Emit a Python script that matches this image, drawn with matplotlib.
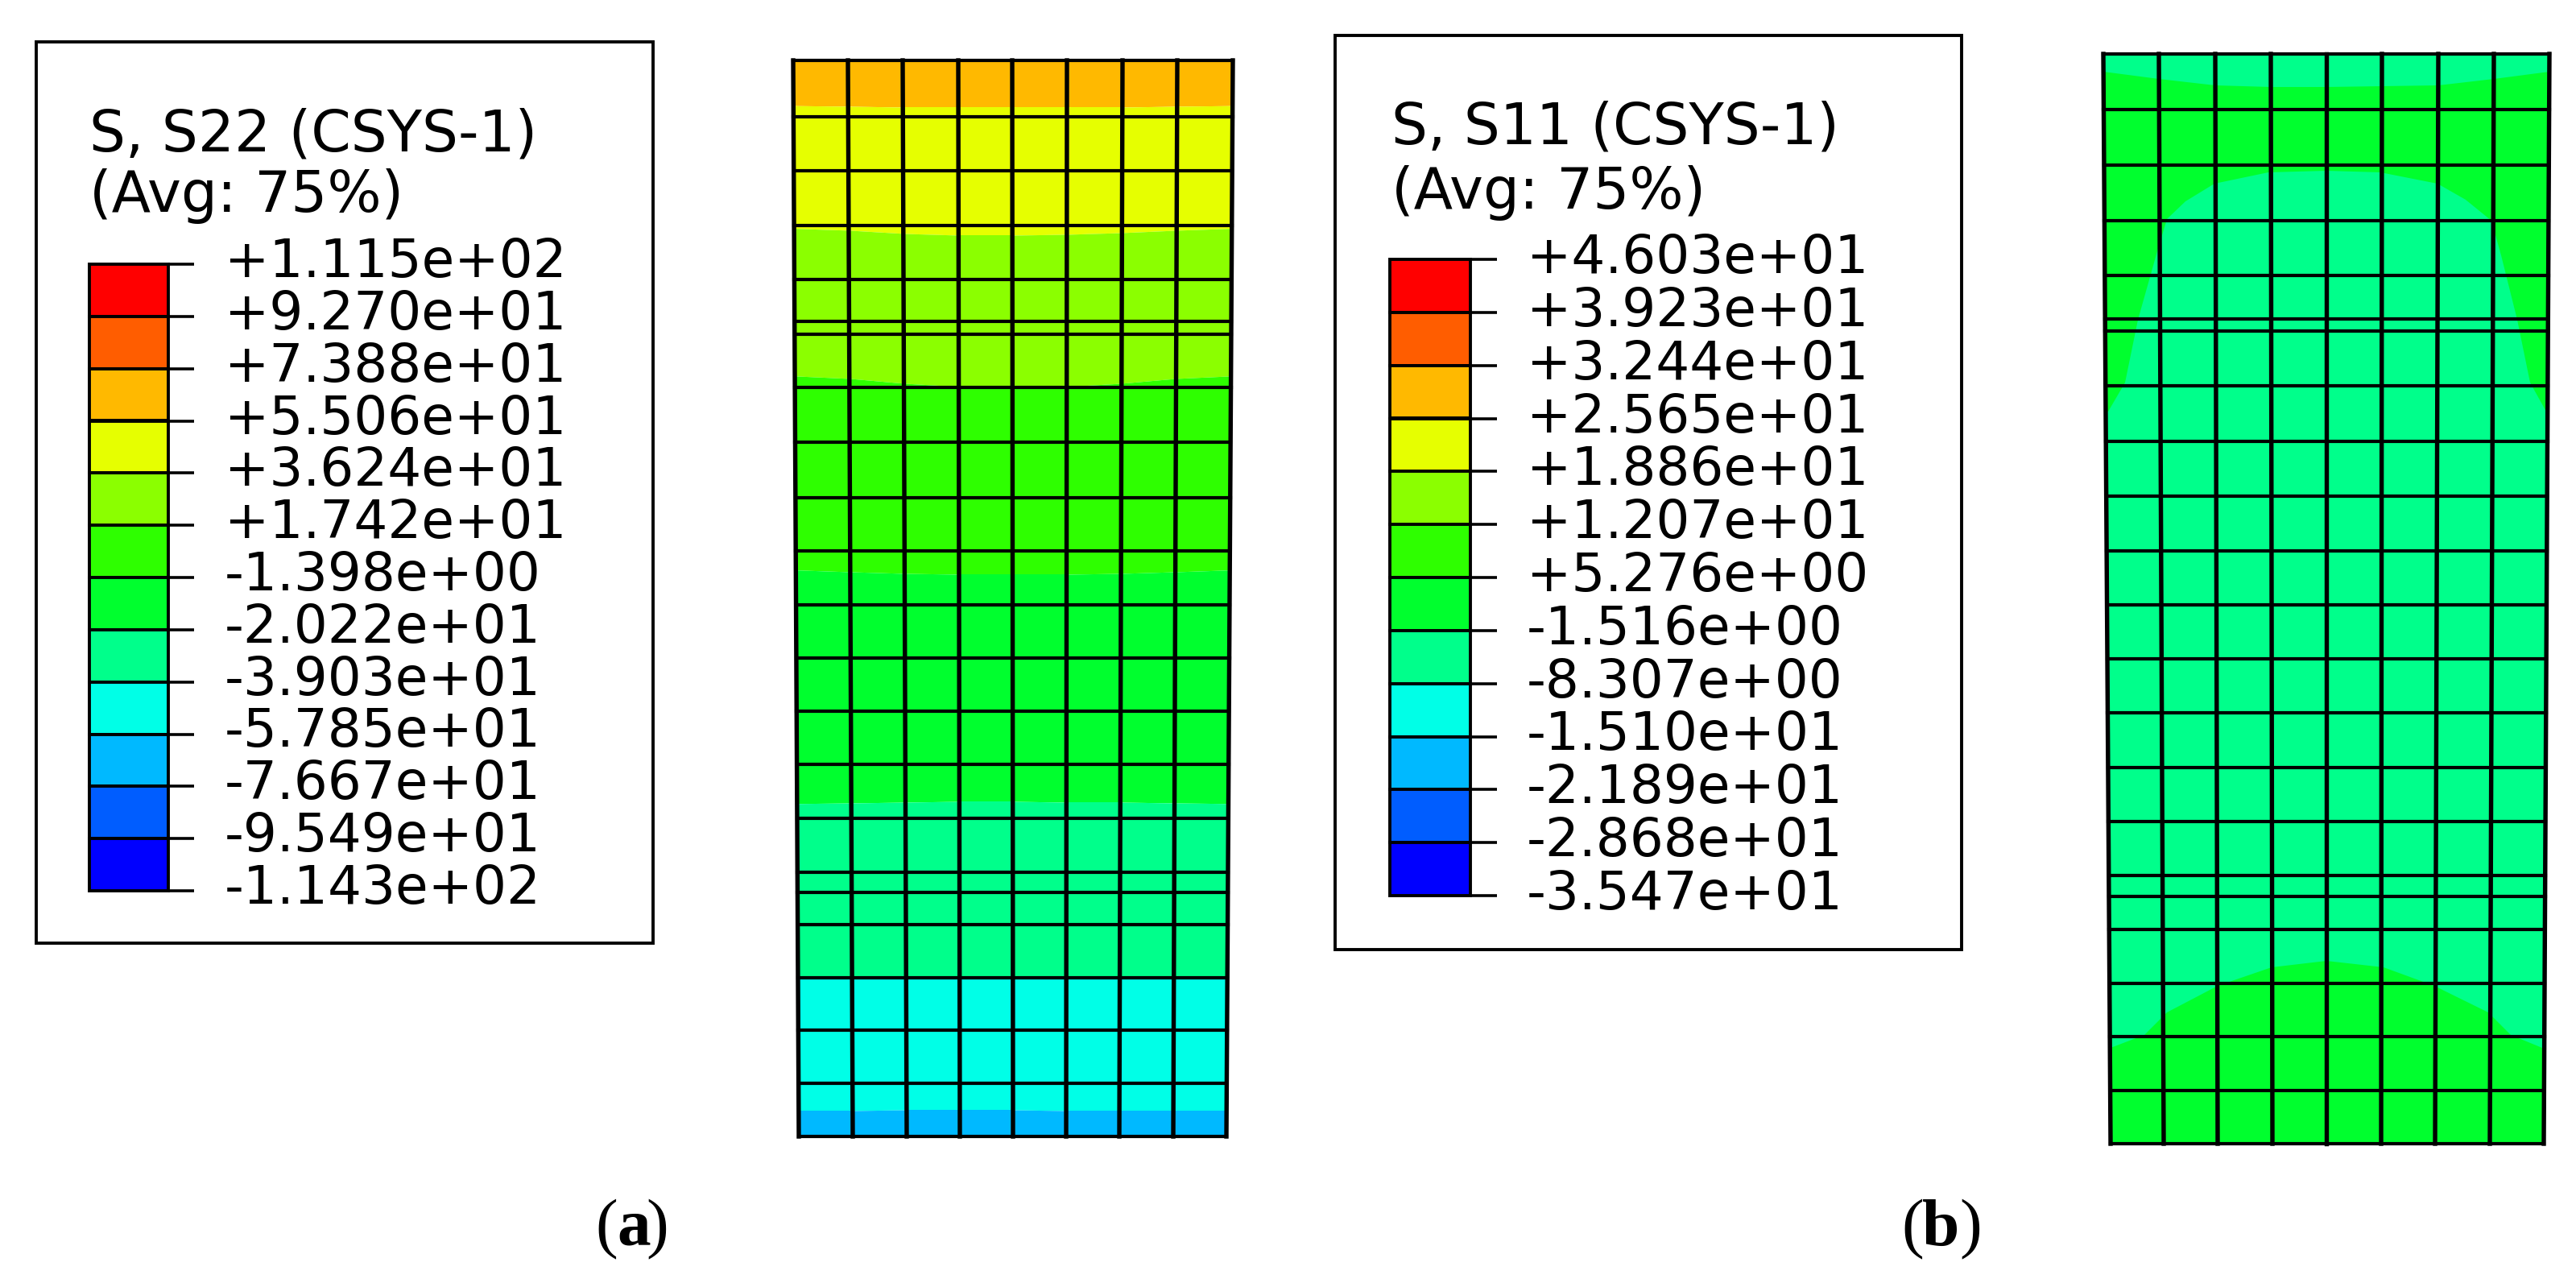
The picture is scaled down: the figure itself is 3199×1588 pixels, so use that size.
#!/usr/bin/env python3

import matplotlib
matplotlib.use('Agg')
import matplotlib.pyplot as plt
from matplotlib.patches import Polygon, Rectangle

plt.rcParams['font.family'] = ['DejaVu Sans']

BLACK = '#000000'

# Abaqus rainbow, top of the legend first
band_colors = ['#ff0000', '#ff5d00', '#ffb900', '#e6ff00', '#8bff00', '#2eff00',
               '#00ff2e', '#00ff8b', '#00ffe7', '#00b9ff', '#005dff', '#0000ff']

labels_s22 = ['+1.115e+02', '+9.270e+01', '+7.388e+01', '+5.506e+01', '+3.624e+01',
              '+1.742e+01', '-1.398e+00', '-2.022e+01', '-3.903e+01', '-5.785e+01',
              '-7.667e+01', '-9.549e+01', '-1.143e+02']
labels_s11 = ['+4.603e+01', '+3.923e+01', '+3.244e+01', '+2.565e+01', '+1.886e+01',
              '+1.207e+01', '+5.276e+00', '-1.516e+00', '-8.307e+00', '-1.510e+01',
              '-2.189e+01', '-2.868e+01', '-3.547e+01']

# mesh a in pixels
a_top_x = [985, 1053, 1121, 1190, 1257, 1325, 1394, 1462, 1531]
a_bot_x = [992, 1059, 1126, 1192, 1258, 1324, 1390, 1457, 1523]
a_rows = [75, 145, 212, 280, 347, 399, 415, 481, 549, 618, 684, 751,
          817, 883, 949, 1016, 1083, 1108, 1148, 1214, 1279, 1345, 1411]

# contour edges of mesh a: one y per column line, top to bottom
a_edges = [
    [131, 132, 133, 133, 133, 133, 133, 132, 131],
    [283, 286, 290, 292, 292, 291, 289, 286, 283],
    [466, 470, 476, 480, 481, 480, 476, 470, 466],
    [707, 710, 712, 713, 713, 713, 712, 710, 707],
    [998, 997, 996, 995, 995, 996, 996, 997, 998],
    [1214, 1214, 1214, 1214, 1214, 1214, 1214, 1214, 1214],
    [1379, 1379, 1378, 1378, 1378, 1379, 1379, 1379, 1379],
]
a_colors = ['#ffb900', '#e6ff00', '#8bff00', '#2eff00', '#00ff2e', '#00ff8b', '#00ffe7', '#00b9ff']

# mesh b
b_top_x = [2612, 2681, 2751, 2820, 2889, 2958, 3028, 3097, 3166]
b_bot_x = [2621, 2687, 2754, 2822, 2889, 2957, 3024, 3092, 3159]
b_rows = [67, 136, 205, 274, 342, 396, 411, 479, 548, 616, 684, 751,
          818, 885, 953, 1020, 1087, 1113, 1154, 1221, 1287, 1354, 1420]

b_upper_x = [2612, 2681, 2751, 2820, 2889, 2958, 3028, 3097, 3166]
b_upper_y = [89, 98, 106, 108, 108, 107, 106, 98, 89]
b_arch_x = [2618, 2639, 2655, 2679, 2691, 2714, 2750, 2817, 2889,
            2956, 3027, 3062, 3094, 3106, 3126, 3142, 3162]
b_arch_y = [511, 475, 397, 312, 272, 250, 228, 214, 212,
            214, 228, 248, 274, 317, 397, 475, 511]
b_low_x = [2621, 2663, 2691, 2754, 2821, 2889, 2960, 3023, 3090, 3118, 3157]
b_low_y = [1301, 1285, 1257, 1224, 1201, 1193, 1201, 1224, 1257, 1285, 1301]


def draw_legend(ax, box, bar, tick_end, text_x, title, title_x, title_y, labels, label_shift):
    x0, x1, y0, y1 = box
    ax.add_patch(Rectangle((x0, y0), x1 - x0, y1 - y0, fc='white', ec=BLACK, lw=2.8))

    bx0, bx1, by0, by1 = bar
    step = (by1 - by0) / len(band_colors)
    for i, c in enumerate(band_colors):
        ax.add_patch(Rectangle((bx0, by0 + i * step), bx1 - bx0, step, fc=c, ec=BLACK, lw=2.8))
    for i, lab in enumerate(labels):
        y = by0 + i * step
        ax.plot([bx1, tick_end], [y, y], color=BLACK, lw=2.6, solid_capstyle='butt')
        ax.text(text_x, y + label_shift, lab, fontsize=47.5, va='center', ha='left', color=BLACK)

    for t, y in zip(title, title_y):
        ax.text(title_x, y, t, fontsize=51, va='center', ha='left', color=BLACK)


def draw_mesh_lines(ax, top_x, bot_x, rows):
    y_top, y_bot = rows[0], rows[-1]
    for xt, xb in zip(top_x, bot_x):
        ax.plot([xt, xb], [y_top, y_bot], color=BLACK, lw=3.9, solid_capstyle='projecting')
    for y in rows:
        f = (y - y_top) / (y_bot - y_top)
        xl = top_x[0] + f * (bot_x[0] - top_x[0])
        xr = top_x[-1] + f * (bot_x[-1] - top_x[-1])
        ax.plot([xl, xr], [y, y], color=BLACK, lw=3.0, solid_capstyle='projecting')


def outline(top_x, bot_x, rows):
    return Polygon([(top_x[0], rows[0]), (top_x[-1], rows[0]),
                    (bot_x[-1], rows[-1]), (bot_x[0], rows[-1])],
                   closed=True, fc='none', ec='none', transform=plt.gca().transData)


fig = plt.figure(figsize=(31.99, 15.88), dpi=100)
ax = fig.add_axes([0, 0, 1, 1])
ax.set_xlim(0, 3199)
ax.set_ylim(1588, 0)
ax.axis('off')

draw_legend(ax, (45, 811, 52, 1171), (111, 209, 328, 1106), 241, 279,
            ['S, S22 (CSYS-1)', '(Avg: 75%)'], 111, [168, 244], labels_s22, -2)
draw_legend(ax, (1658, 2436, 44, 1179), (1726, 1826, 322, 1112), 1859, 1896,
            ['S, S11 (CSYS-1)', '(Avg: 75%)'], 1728, [159, 239], labels_s11, -1)

# panel a contour bands
clip_a = outline(a_top_x, a_bot_x, a_rows)
ax.add_patch(clip_a)
uppers = [[a_rows[0]] * 9] + a_edges
lowers = a_edges + [[a_rows[-1]] * 9]
for c, up, low in zip(a_colors, uppers, lowers):
    mid_x = [(t + b) / 2 for t, b in zip(a_top_x, a_bot_x)]
    mid_x[0] -= 20
    mid_x[-1] += 20
    poly = ax.fill_between(mid_x, up, low, color=c, lw=0)
    poly.set_clip_path(clip_a)
draw_mesh_lines(ax, a_top_x, a_bot_x, a_rows)

# panel b contour regions
clip_b = outline(b_top_x, b_bot_x, b_rows)
ax.add_patch(clip_b)
base = Polygon(clip_b.get_xy(), closed=True, fc='#00ff8b', ec='none')
ax.add_patch(base)
upper_pts = list(zip(b_upper_x, b_upper_y))
arch_pts = list(zip(b_arch_x, b_arch_y))[::-1]
top_region = Polygon(upper_pts + [(3170, 511)] + arch_pts + [(2608, 511)], closed=True, fc='#00ff2e', ec='none')
ax.add_patch(top_region)
top_region.set_clip_path(clip_b)
low_pts = list(zip(b_low_x, b_low_y))
low_region = Polygon([(2610, 1305)] + low_pts + [(3170, 1305), (3170, 1425), (2610, 1425)],
                     closed=True, fc='#00ff2e', ec='none')
ax.add_patch(low_region)
low_region.set_clip_path(clip_b)
draw_mesh_lines(ax, b_top_x, b_bot_x, b_rows)

# captions, bold letter between plain brackets
serif = 'Liberation Serif'
for x, s, w in [(739, '(', 'normal'), (766, 'a', 'bold'), (802, ')', 'normal'),
                (2361, '(', 'normal'), (2387, 'b', 'bold'), (2433, ')', 'normal')]:
    ax.text(x, 1546, s, family=serif, fontweight=w, fontsize=60, va='baseline', ha='left', color=BLACK)

plt.savefig('out.png', dpi=100)
